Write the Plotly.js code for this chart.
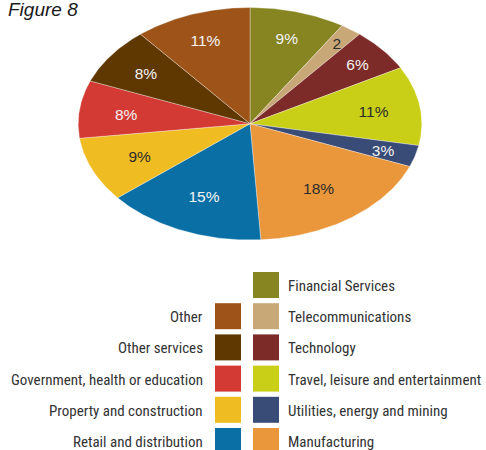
<!DOCTYPE html>
<html>
<head>
<meta charset="utf-8">
<script src="https://cdn.plot.ly/plotly-3.0.1.min.js"></script>
<style>
  html, body { margin: 0; padding: 0; background: #ffffff; }
  #chart { width: 486px; height: 450px; }
  .annotation-text { font-stretch: condensed; }
</style>
</head>
<body>
<div id="chart"></div>
<script>
// ---- data ----
const categories = [
  'Financial Services',
  'Telecommunications',
  'Technology',
  'Travel, leisure and entertainment',
  'Utilities, energy and mining',
  'Manufacturing',
  'Retail and distribution',
  'Property and construction',
  'Government, health or education',
  'Other services',
  'Other'
];
const shares = [9, 2, 6, 11, 3, 18, 15, 9, 8, 8, 11];
const sliceLabels = ['9%', '2', '6%', '11%', '3%', '18%', '15%', '9%', '8%', '8%', '11%'];

// ---- styles ----
const sliceColors = [
  '#878521', '#c9a878', '#7d2b28', '#c9cf17', '#394c78', '#ea973c',
  '#0a6fa4', '#efbc22', '#d33a34', '#5e3800', '#9e5418'
];
const darkText = '#2b2b2b';
const lightText = '#f4f4f4';
const labelTextColors = [
  lightText, darkText, lightText, darkText, lightText, darkText,
  lightText, darkText, lightText, lightText, lightText
];

// ---- layout geometry (pixel space of the 486x450 figure) ----
const W = 486, H = 450;
const CX = 250, CY = 123.75, RX = 171.8, RY = 116.25;

const total = shares.reduce((a, b) => a + b, 0);
const traces = [];
const labX = [], labY = [];
let cum = 0;
shares.forEach((v, i) => {
  const a0 = cum / total * 2 * Math.PI;
  const a1 = (cum + v) / total * 2 * Math.PI;
  const n = Math.max(4, Math.ceil((a1 - a0) / (Math.PI / 360)));
  const xs = [CX], ys = [CY];
  for (let k = 0; k <= n; k++) {
    const a = a0 + (a1 - a0) * k / n;
    xs.push(CX + RX * Math.sin(a));
    ys.push(CY - RY * Math.cos(a));
  }
  xs.push(CX); ys.push(CY);
  traces.push({
    type: 'scatter', mode: 'lines', x: xs, y: ys,
    fill: 'toself', fillcolor: sliceColors[i],
    line: { color: 'rgba(255,255,255,0.55)', width: 0.6 },
    name: categories[i], hoverinfo: 'skip', showlegend: false
  });
  const mid = (a0 + a1) / 2;
  const f = 0.72 + 0.05 * Math.cos(mid) + (v < 5 ? 0.1 : 0) + (v > 5 && v < 8 ? 0.06 : 0);
  labX.push(CX + RX * f * Math.sin(mid));
  labY.push(CY - RY * f * Math.cos(mid) + 2.5);
  cum += v;
});

// slice value labels
traces.push({
  type: 'scatter', mode: 'text', x: labX, y: labY, text: sliceLabels,
  textposition: 'middle center',
  textfont: { family: 'Liberation Sans, Arial, sans-serif', size: 15.5, color: labelTextColors },
  hoverinfo: 'skip', showlegend: false
});

// custom two-column legend
const ROW0 = 285, ROWSTEP = 31.2, SW = 26;
const RIGHT_SW_X = 266, LEFT_SW_X = 228;
const swX = [], swY = [];
const annotations = [];
const legendFont = { family: 'Roboto, Liberation Sans, sans-serif', size: 15, color: '#333333' };
categories.forEach((c, i) => {
  const right = i <= 5;
  const row = right ? i : 11 - i;
  const y = ROW0 + row * ROWSTEP;
  const x = right ? RIGHT_SW_X : LEFT_SW_X;
  swX.push(x); swY.push(y);
  annotations.push({
    x: right ? x + SW / 2 + 7 : x - SW / 2 - 10,
    y: y + 1,
    xref: 'x', yref: 'y',
    text: c, showarrow: false,
    xanchor: right ? 'left' : 'right', yanchor: 'middle',
    align: right ? 'left' : 'right',
    font: legendFont
  });
});
traces.push({
  type: 'scatter', mode: 'markers', x: swX, y: swY,
  marker: { symbol: 'square', size: SW, color: sliceColors, line: { width: 0 } },
  hoverinfo: 'skip', showlegend: false, cliponaxis: false
});

const layout = {
  width: W, height: H,
  margin: { l: 0, r: 0, t: 0, b: 0, pad: 0 },
  paper_bgcolor: '#ffffff', plot_bgcolor: '#ffffff',
  showlegend: false, hovermode: false,
  title: {
    text: 'Figure 8',
    x: 8 / W, xref: 'paper', xanchor: 'left',
    y: 1, yref: 'container', yanchor: 'top',
    pad: { t: 3, l: 0, r: 0, b: 0 },
    font: { family: 'Liberation Sans, Arial, sans-serif', size: 19, style: 'italic', color: '#1a1a1a' }
  },
  xaxis: { range: [0, W], visible: false, fixedrange: true },
  yaxis: { range: [H, 0], visible: false, fixedrange: true },
  annotations: annotations
};

Plotly.newPlot('chart', traces, layout, { staticPlot: true, displayModeBar: false });
</script>
</body>
</html>
